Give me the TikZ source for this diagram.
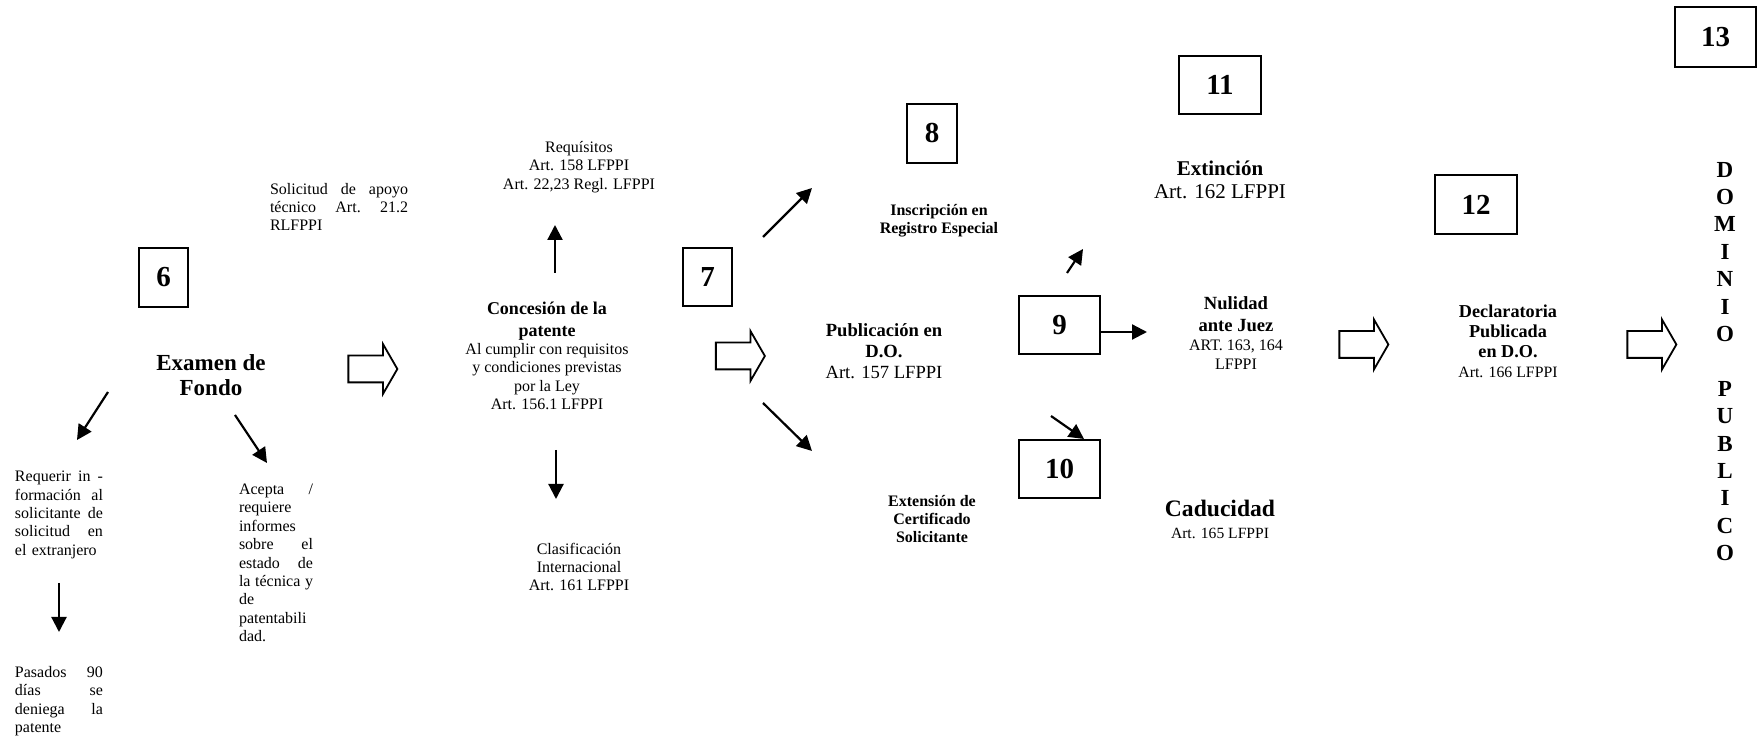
\documentclass[tikz,border=0pt]{standalone}
\usepackage{fontspec}
\setmainfont{Liberation Serif}
\usepackage{tikz}
\usetikzlibrary{shapes.arrows, arrows.meta}

\begin{document}
\begin{tikzpicture}[
    x=0.5pt, y=-0.5pt,
    numbox/.style={rectangle, draw=black, line width=1pt, inner sep=0pt, font=\fontsize{14.5}{16}\selectfont\bfseries},
    txt/.style={align=center, inner sep=0pt, font=\fontsize{8}{9.2}\selectfont},
    jtxt/.style={align=left, inner sep=0pt, font=\fontsize{8}{9.2}\selectfont},
    bigarrow/.style={single arrow, draw=black, line width=0.9pt, minimum height=24.5pt, single arrow head extend=5.75pt, single arrow tip angle=120, inner sep=0pt},
    arr/.style={-{Triangle[length=7.5pt, width=7.5pt]}, line width=1.1pt}
]
\useasboundingbox (0,0) rectangle (1758,742);

% Examen de fondo
\node[numbox, minimum width=24.5pt, minimum height=29.5pt] (n6) at (163.5,277.5) {6};
\node[jtxt, text width=69pt] (solicitud) at (339,207) {Solicitud\hfill de\hfill apoyo\\ técnico\hfill Art.\hfill 21.2\\ RLFPPI};
\node[txt, font=\fontsize{11.5}{12.5}\selectfont\bfseries] (examen) at (211,375) {Examen de\\ Fondo};
\node[jtxt, text width=44pt] (requerir) at (59,515) {Requerir\hfill in\hfill -\\ formación\hfill al\\ solicitante\hfill de\\ solicitud\hfill en\\ el extranjero};
\node[jtxt, text width=44pt] (pasados) at (59,701) {Pasados\hfill 90\\ días\hfill se\\ deniega\hfill la\\ patente};
\node[jtxt, text width=37pt] (acepta) at (276,563) {Acepta\hfill /\\ requiere\\ informes\\ sobre\hfill el\\ estado\hfill de\\ la\hfill técnica\hfill y\\ de\\ patentabili\\ dad.};
\node[bigarrow] (flecha1) at (369,369) {\rule{0pt}{12.5pt}};

\coordinate (exL) at (108,392);
\coordinate (reqIn) at (77,440);
\coordinate (exR) at (235,415);
\coordinate (acIn) at (267,463);
\coordinate (reqOut) at (59,583);
\coordinate (pasIn) at (59,632);
\draw[arr] (exL) -- (reqIn);
\draw[arr] (exR) -- (acIn);
\draw[arr] (reqOut) -- (pasIn);

% Concesion de la patente
\node[numbox, minimum width=24.5pt, minimum height=29pt] (n7) at (707.5,277) {7};
\node[txt] (requisitos) at (579,167) {Requísitos\\ Art. 158 LFPPI\\ Art. 22,23 Regl. LFPPI};
\node[txt] (concesion) at (547,356) {{\fontsize{9}{10}\selectfont\bfseries Concesión de la}\\[1.5pt] {\fontsize{9}{10}\selectfont\bfseries patente}\\ Al cumplir con requisitos\\ y condiciones previstas\\ por la Ley\\ Art. 156.1 LFPPI};
\node[txt] (clasif) at (579,567) {Clasificación\\ Internacional\\ Art. 161 LFPPI};
\node[bigarrow] (flecha2) at (736.5,356) {\rule{0pt}{12.5pt}};

\coordinate (coUp) at (555,273);
\coordinate (reqsIn) at (555,225);
\coordinate (coDown) at (556,450);
\coordinate (clasIn) at (556,499);
\draw[arr] (coUp) -- (reqsIn);
\draw[arr] (coDown) -- (clasIn);

% Publicacion en D.O.
\node[numbox, minimum width=25pt, minimum height=29.5pt] (n8) at (932,133.5) {8};
\node[txt, font=\fontsize{8}{9.2}\selectfont\bfseries] (inscripcion) at (939,221) {Inscripción en\\ Registro Especial};
\node[txt, font=\fontsize{9.3}{10.5}\selectfont] (publicacion) at (884,351) {\textbf{Publicación en}\\ \textbf{D.O.}\\ Art. 157 LFPPI};
\node[txt, font=\fontsize{8}{8.8}\selectfont\bfseries] (extension) at (932,519) {Extensión de\\ Certificado\\ Solicitante};

\coordinate (puUp) at (763,237);
\coordinate (insIn) at (812,188);
\coordinate (puDown) at (763,403);
\coordinate (extIn) at (812,451);
\draw[arr] (puUp) -- (insIn);
\draw[arr] (puDown) -- (extIn);

% Extincion, nulidad y caducidad
\node[numbox, minimum width=40.5pt, minimum height=29pt] (n9) at (1059.5,325) {9};
\node[numbox, minimum width=40.5pt, minimum height=29pt] (n10) at (1059.5,469) {10};
\node[numbox, minimum width=41pt, minimum height=29pt] (n11) at (1220,85) {11};
\node[txt, font=\fontsize{10.5}{11.7}\selectfont] (extincion) at (1220,180) {\textbf{Extinción}\\ Art. 162 LFPPI};
\node[txt] (nulidad) at (1236,333) {{\fontsize{9.3}{10}\selectfont\bfseries Nulidad}\\[1.5pt] {\fontsize{9.3}{10}\selectfont\bfseries ante Juez}\\[0.5pt] ART. 163, 164\\ LFPPI};
\node[txt, font=\fontsize{7.8}{9}\selectfont] (caducidad) at (1220,519) {{\fontsize{11.8}{13}\selectfont\bfseries Caducidad}\\[2pt] Art. 165 LFPPI};
\node[bigarrow] (flecha3) at (1360,344.5) {\rule{0pt}{12.5pt}};

\coordinate (nueveUp) at (1067,273);
\coordinate (extiIn) at (1083,249);
\coordinate (nulIn) at (1147,332);
\coordinate (diezTop) at (1051,416);
\draw[arr] (nueveUp) -- (extiIn);
\draw[arr] ([yshift=-3.5pt]n9.east) -- (nulIn);
\draw[arr] (diezTop) -- ([xshift=-8.5pt]n10.north east);

% Declaratoria y dominio publico
\node[numbox, minimum width=41pt, minimum height=29.5pt] (n12) at (1476,204.5) {12};
\node[txt, font=\fontsize{9.1}{10}\selectfont\bfseries] (declaratoria) at (1508,341) {Declaratoria\\ Publicada\\ en D.O.\\ {\fontsize{7.9}{9}\mdseries\selectfont Art. 166 LFPPI}};
\node[bigarrow] (flecha4) at (1648,344.5) {\rule{0pt}{12.5pt}};
\node[numbox, minimum width=40.5pt, minimum height=30pt] (n13) at (1715.5,37) {13};
\node[txt, font=\fontsize{11.5}{13.7}\selectfont\bfseries] (dominio) at (1725,361.5) {D\\ O\\ M\\ I\\ N\\ I\\ O\\[13.7pt] P\\ U\\ B\\ L\\ I\\ C\\ O};

\end{tikzpicture}
\end{document}
